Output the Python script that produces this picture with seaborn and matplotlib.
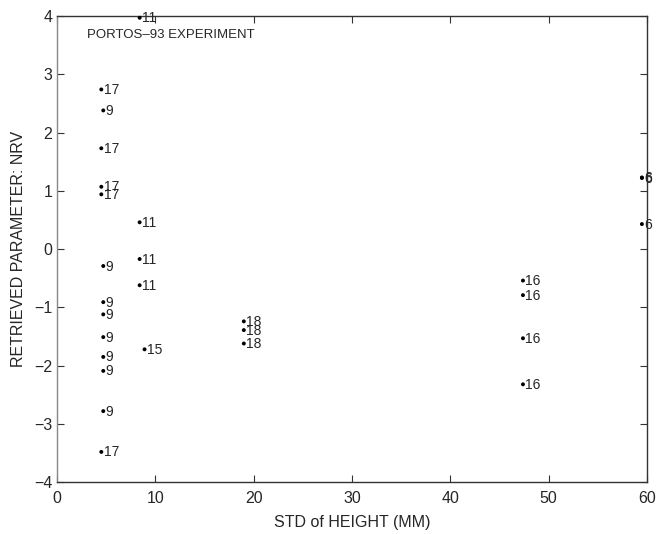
import matplotlib
matplotlib.use("Agg")
import matplotlib.pyplot as plt
import pandas as pd
import seaborn as sns

std_height = [8.4, 4.5, 4.7, 4.5, 4.5, 4.5, 8.4, 4.7, 8.4, 8.4, 4.7, 4.7, 4.7,
              8.9, 4.7, 4.7, 4.7, 4.5, 19.0, 19.0, 19.0, 47.4, 47.4, 47.4, 47.4,
              59.5, 59.5, 59.5]
nrv = [3.97, 2.74, 2.38, 1.73, 1.07, 0.94, 0.46, -0.29, -0.17, -0.62, -0.91,
       -1.12, -1.51, -1.72, -1.85, -2.09, -2.78, -3.48, -1.24, -1.39, -1.62,
       -0.54, -0.79, -1.53, -2.32, 1.23, 1.22, 0.43]
labels = ["11", "17", "9", "17", "17", "17", "11", "9", "11", "11", "9", "9",
          "9", "15", "9", "9", "9", "17", "18", "18", "18", "16", "16", "16",
          "16", "6", "6", "6"]

if __name__ == "__main__":
    sns.set_style("ticks")
    plt.rcParams['font.family'] = ['Liberation Sans', 'DejaVu Sans']

    df = pd.DataFrame({'std': std_height, 'nrv': nrv, 'label': labels})

    fig = plt.figure(figsize=(6.56, 5.34), dpi=100)
    ax = fig.add_axes([0.087, 0.097, 0.899, 0.873])
    sns.scatterplot(x="std", y="nrv", data=df, color="black", s=8,
                    edgecolor="none", ax=ax, clip_on=False, zorder=3)
    for _, row in df.iterrows():
        ax.text(row['std'] + 0.25, row['nrv'] - 0.01, row['label'],
                fontsize=10, va="center", ha="left", clip_on=False)

    ax.text(3.0, 3.67, "PORTOS\u201393 EXPERIMENT", fontsize=9.5, va="center")

    ax.set_xlim(0, 60)
    ax.set_ylim(-4, 4)
    ax.set_xticks(range(0, 61, 10))
    ax.set_yticks(range(-4, 5))
    ax.set_xlabel("STD of HEIGHT (MM)", fontsize=11.5, labelpad=7)
    ax.set_ylabel("RETRIEVED PARAMETER: NRV", fontsize=11.5, labelpad=6)
    ax.tick_params(axis='both', which='major', labelsize=11.5, direction='in',
                   top=True, right=True, length=5, color="#333333")
    ax.tick_params(axis='x', pad=6)
    for sp in ax.spines.values():
        sp.set_visible(True)
        sp.set_color("#333333")
        sp.set_linewidth(1.0)
    ax.spines['left'].set_color("#888888")

    plt.savefig("out.png", dpi=100)
